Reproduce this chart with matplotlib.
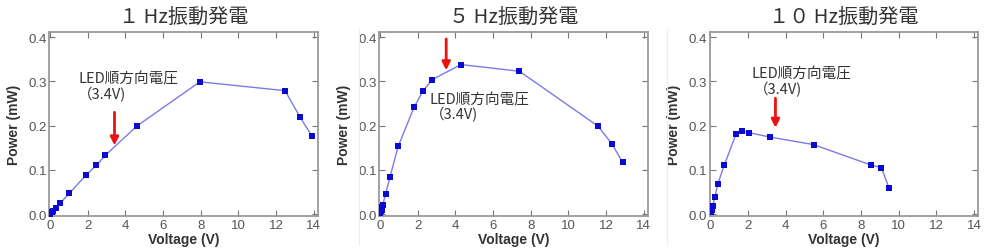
import matplotlib
matplotlib.use("Agg")
import matplotlib.pyplot as plt
from matplotlib.lines import Line2D

plt.rcParams['font.family'] = ['Noto Sans CJK JP', 'DejaVu Sans']

titles = ["１ Hz振動発電", "５ Hz振動発電", "１０ Hz振動発電"]

v_1hz = [0.0, 0.02, 0.08, 0.15, 0.3, 0.55, 1.03, 1.91, 2.45, 2.94, 4.61, 7.95, 12.47, 13.27, 13.9]
p_1hz = [0.0, 0.002, 0.004, 0.007, 0.014, 0.025, 0.047, 0.088, 0.110, 0.133, 0.199, 0.299, 0.279, 0.219, 0.176]

v_5hz = [0.02, 0.05, 0.08, 0.12, 0.14, 0.3, 0.53, 0.96, 1.81, 2.29, 2.77, 4.29, 7.39, 11.56, 12.32, 12.87]
p_5hz = [0.003, 0.006, 0.010, 0.016, 0.020, 0.046, 0.084, 0.153, 0.242, 0.279, 0.304, 0.338, 0.323, 0.199, 0.158, 0.117]

v_10hz = [0.05, 0.08, 0.1, 0.12, 0.25, 0.41, 0.74, 1.36, 1.70, 2.05, 3.18, 5.48, 8.52, 9.08, 9.49]
p_10hz = [0.004, 0.008, 0.012, 0.017, 0.039, 0.069, 0.110, 0.180, 0.187, 0.184, 0.174, 0.157, 0.111, 0.105, 0.059]

led_voltage = 3.4
label_lines = ["LED順方向電圧", "（3.4V)"]

# annotation placement per panel: arrow start/end y, text1 (x,y), text2 (x,y)
arrow_x = [3.42, 3.51, 3.46]
arrow_y0 = [0.230, 0.396, 0.262]
arrow_y1 = [0.155, 0.325, 0.195]
text1_xy = [(1.5, 0.306), (2.65, 0.260), (2.2, 0.318)]
text2_xy = [(1.5, 0.272), (2.65, 0.227), (2.3, 0.283)]

series = [(v_1hz, p_1hz), (v_5hz, p_5hz), (v_10hz, p_10hz)]

fig = plt.figure(figsize=(9.9, 2.53), dpi=100)
lefts = [49.3 / 990, 379.3 / 990, 709.5 / 990]
width = 268.5 / 990
bottom = 1 - 217 / 253
height = (217 - 33.3) / 253

frame_col = '#9a9a9a'
for i, (v, p) in enumerate(series):
    ax = fig.add_axes([lefts[i], bottom, width, height])
    ax.plot(v, p, color='#7b7be6', lw=1.0, zorder=2)
    ax.plot(v, p, linestyle='none', marker='s', ms=5, color='#0a0ad0',
            markeredgewidth=0, zorder=3)
    ax.set_xlim(-0.04, 14.21)
    ax.set_ylim(-0.0045, 0.411)
    ax.set_xticks(range(0, 15, 2))
    ax.set_yticks([0.0, 0.1, 0.2, 0.3, 0.4])
    ax.set_yticklabels(['0.0', '0.1', '0.2', '0.3', '0.4'])
    for s in ax.spines.values():
        s.set_color(frame_col)
        s.set_linewidth(1.3)
    ax.tick_params(direction='in', length=4, width=0.8, color='#777777',
                   top=True, right=True, labelsize=9.5, labelcolor='#555555', pad=2)
    for lab in ax.get_xticklabels() + ax.get_yticklabels():
        lab.set_family(['Liberation Sans'])
    ax.set_xlabel('Voltage (V)', fontsize=10, fontweight='bold', color='#333333',
                  family=['Liberation Sans'], labelpad=1)
    ax.set_ylabel('Power (mW)', fontsize=10, fontweight='bold', color='#333333',
                  family=['Liberation Sans'], labelpad=5)
    ax.set_title(titles[i], fontsize=14.5, color='#333333', pad=7)
    ax.annotate('', xy=(arrow_x[i], arrow_y1[i]), xytext=(arrow_x[i], arrow_y0[i]),
                arrowprops=dict(arrowstyle='-|>', color='#ee1111', lw=2,
                                mutation_scale=12, shrinkA=0, shrinkB=0), zorder=4)
    ax.text(text1_xy[i][0], text1_xy[i][1], label_lines[0], fontsize=10.5,
            color='#333333', va='center', ha='left')
    ax.text(text2_xy[i][0], text2_xy[i][1], label_lines[1], fontsize=10.5,
            color='#333333', va='center', ha='left')

# faint separators between panels
for xp in [359 / 990, 667 / 990]:
    fig.add_artist(Line2D([xp, xp], [1 - 245 / 253, 1 - 30 / 253],
                          transform=fig.transFigure, color='#ececec', lw=0.8))

fig.savefig('out.png', dpi=100, facecolor='white')
